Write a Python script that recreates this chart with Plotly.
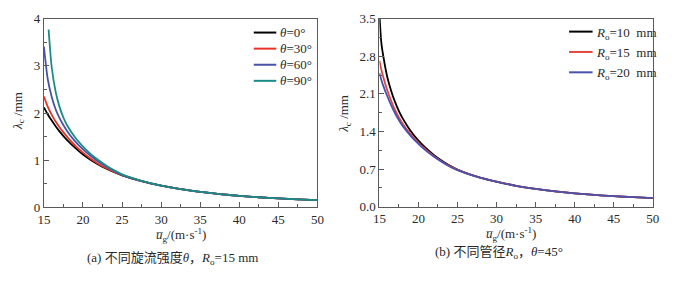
import plotly.graph_objects as go

# ---------------- data ----------------
u_a = [15, 15.5, 16, 16.5, 17, 17.5, 18, 19, 20, 21, 22, 23, 24, 25,
       27.5, 30, 32.5, 35, 37.5, 40, 42.5, 45, 47.5, 50]
lam_theta0 = [2.12, 1.97, 1.84, 1.72, 1.61, 1.51, 1.42, 1.26, 1.12, 1.005, 0.905, 0.82, 0.745, 0.68,
              0.555, 0.46, 0.385, 0.328, 0.282, 0.245, 0.215, 0.19, 0.17, 0.155]
lam_theta30 = [2.35, 2.13, 1.96, 1.82, 1.70, 1.59, 1.49, 1.31, 1.16, 1.03, 0.92, 0.83, 0.75, 0.683,
               0.556, 0.46, 0.385, 0.328, 0.282, 0.245, 0.215, 0.19, 0.17, 0.155]
lam_theta60 = [3.41, 2.71, 2.34, 2.08, 1.89, 1.74, 1.61, 1.40, 1.23, 1.09, 0.965, 0.86, 0.77, 0.69,
               0.558, 0.461, 0.385, 0.328, 0.282, 0.245, 0.215, 0.19, 0.17, 0.155]
u_a90 = [15.6, 16, 16.5, 17, 17.5, 18, 19, 20, 21, 22, 23, 24, 25,
         27.5, 30, 32.5, 35, 37.5, 40, 42.5, 45, 47.5, 50]
lam_theta90 = [3.77, 2.97, 2.45, 2.13, 1.90, 1.73, 1.48, 1.29, 1.13, 1.00, 0.885, 0.785, 0.70,
               0.562, 0.462, 0.386, 0.328, 0.282, 0.245, 0.215, 0.19, 0.17, 0.155]

u_b = [15, 15.25, 15.5, 16, 16.5, 17, 17.5, 18, 19, 20, 21, 22, 23, 24, 25,
       27.5, 30, 32.5, 35, 37.5, 40, 42.5, 45, 47.5, 50]
lam_R10 = [3.6, 3.05, 2.8, 2.42, 2.16, 1.95, 1.78, 1.64, 1.41, 1.23, 1.085, 0.96, 0.855, 0.765, 0.69,
           0.56, 0.465, 0.39, 0.333, 0.287, 0.25, 0.22, 0.196, 0.177, 0.162]
lam_R15 = [2.72, 2.55, 2.41, 2.17, 1.97, 1.80, 1.66, 1.54, 1.35, 1.19, 1.055, 0.94, 0.84, 0.755, 0.685,
           0.558, 0.465, 0.39, 0.333, 0.287, 0.25, 0.22, 0.196, 0.177, 0.162]
lam_R20 = [2.49, 2.36, 2.25, 2.06, 1.89, 1.74, 1.61, 1.50, 1.32, 1.17, 1.04, 0.93, 0.835, 0.75, 0.68,
           0.556, 0.464, 0.39, 0.333, 0.287, 0.25, 0.22, 0.196, 0.177, 0.162]

names_a = ["<i>θ</i>=0°", "<i>θ</i>=30°", "<i>θ</i>=60°", "<i>θ</i>=90°"]
names_b = ["<i>R</i><sub>o</sub>=10  mm", "<i>R</i><sub>o</sub>=15  mm", "<i>R</i><sub>o</sub>=20  mm"]

x_ticks = [15, 20, 25, 30, 35, 40, 45, 50]
y_ticks_a = [0, 1, 2, 3, 4]
y_ticks_b = [0.0, 0.7, 1.4, 2.1, 2.8, 3.5]

colors_a = ["#000000", "#e5332a", "#4653a6", "#1c8b86"]
colors_b = ["#000000", "#e0473f", "#4a52ad"]

# ---------------- figure ----------------
W, H = 674, 281
SERIF = "Liberation Serif, Noto Sans CJK SC"
TXT = "#2a2a2a"
AX = "#5a5a5a"
fig = go.Figure()

series_a = [(u_a, lam_theta0), (u_a, lam_theta30), (u_a, lam_theta60), (u_a90, lam_theta90)]
for (xs, ys), nm, c in zip(series_a, names_a, colors_a):
    fig.add_trace(go.Scatter(x=xs, y=ys, mode="lines", name=nm, showlegend=False,
                             line=dict(color=c, width=1.8, shape="spline", smoothing=0.8),
                             xaxis="x", yaxis="y"))
for ys, nm, c in zip([lam_R10, lam_R15, lam_R20], names_b, colors_b):
    fig.add_trace(go.Scatter(x=u_b, y=ys, mode="lines", name=nm, showlegend=False,
                             line=dict(color=c, width=1.8, shape="spline", smoothing=0.8),
                             xaxis="x2", yaxis="y2"))


def px_x(p):
    return p / W


def px_y(p):
    return 1 - p / H


axis_common = dict(showline=True, linecolor=AX, linewidth=1, mirror=True, ticks="inside",
                   ticklen=5, tickcolor=AX, showgrid=False, zeroline=False, ticklabeloverflow="allow",
                   tickfont=dict(family=SERIF, size=13, color=TXT))

fig.update_layout(
    width=W, height=H, autosize=False, margin=dict(l=0, r=0, t=0, b=0, pad=0),
    paper_bgcolor="white", plot_bgcolor="white",
    font=dict(family=SERIF, color=TXT, size=12),
    showlegend=False,
    xaxis=dict(domain=[px_x(37.7), px_x(317)], range=[15, 50], tickvals=x_ticks, anchor="y",
               minor=dict(ticks="inside", dtick=2.5, ticklen=3, tickcolor=AX), **axis_common),
    yaxis=dict(domain=[px_y(211.7), px_y(12.3)], range=[0, 4], tickvals=y_ticks_a, anchor="x",
               minor=dict(ticks="inside", dtick=0.5, ticklen=3, tickcolor=AX), **axis_common),
    xaxis2=dict(domain=[px_x(380.3), px_x(659.5)], range=[15, 50], tickvals=x_ticks, anchor="y2",
                minor=dict(ticks="inside", dtick=2.5, ticklen=3, tickcolor=AX), **axis_common),
    yaxis2=dict(domain=[px_y(211), px_y(12.3)], range=[0, 3.5], tickvals=y_ticks_b, tickformat=".1f",
                anchor="x2", minor=dict(ticks="inside", dtick=0.35, ticklen=3, tickcolor=AX),
                **axis_common),
)

# legends (swatch + label), laid out like the original
leg_a_y = [27, 44, 61, 78]
for nm, c, yy in zip(names_a, colors_a, leg_a_y):
    fig.add_shape(type="line", xref="paper", yref="paper", x0=px_x(252), x1=px_x(275),
                  y0=px_y(yy), y1=px_y(yy), line=dict(color=c, width=2))
    fig.add_annotation(xref="paper", yref="paper", x=px_x(277), y=px_y(yy), text=nm, showarrow=False,
                       xanchor="left", yanchor="middle", font=dict(family=SERIF, size=13, color=TXT))
leg_b_y = [26, 47.5, 69]
for nm, c, yy in zip(names_b, colors_b, leg_b_y):
    fig.add_shape(type="line", xref="paper", yref="paper", x0=px_x(574), x1=px_x(598),
                  y0=px_y(yy), y1=px_y(yy), line=dict(color=c, width=2))
    fig.add_annotation(xref="paper", yref="paper", x=px_x(599), y=px_y(yy + 1.5), text=nm, showarrow=False,
                       xanchor="left", yanchor="middle", font=dict(family=SERIF, size=13, color=TXT))

ann = [
    dict(x=px_x(178), y=px_y(241), text="<i>u̅</i><sub>g</sub>/(m·s<sup>-1</sup>)"),
    dict(x=px_x(515), y=px_y(240), text="<i>u̅</i><sub>g</sub>/(m·s<sup>-1</sup>)"),
    dict(x=px_x(169), y=px_y(266), text="(a) 不同旋流强度<i>θ</i>，<i>R</i><sub>o</sub>=15 mm"),
    dict(x=px_x(502), y=px_y(259), text="(b) 不同管径<i>R</i><sub>o</sub>，<i>θ</i>=45°"),
    dict(x=px_x(11), y=px_y(110), text="<i>λ</i><sub>c</sub> /mm", textangle=-90),
    dict(x=px_x(345), y=px_y(113), text="<i>λ</i><sub>c</sub> /mm", textangle=-90),
]
for a in ann:
    a.update(xref="paper", yref="paper", showarrow=False, xanchor="center", yanchor="middle",
             font=dict(family=SERIF, size=13, color=TXT))
    fig.add_annotation(**a)

post = ("document.documentElement.style.margin='0';document.documentElement.style.overflow='hidden';"
        "document.body.style.margin='0';document.body.style.padding='0';document.body.style.overflow='hidden';"
        "var gd=document.getElementById('{plot_id}');"
        "Plotly.relayout(gd,{width:%d,height:%d,autosize:false});" % (W, H))
fig.write_html("out.html", config={"displayModeBar": False, "responsive": False}, post_script=post)
